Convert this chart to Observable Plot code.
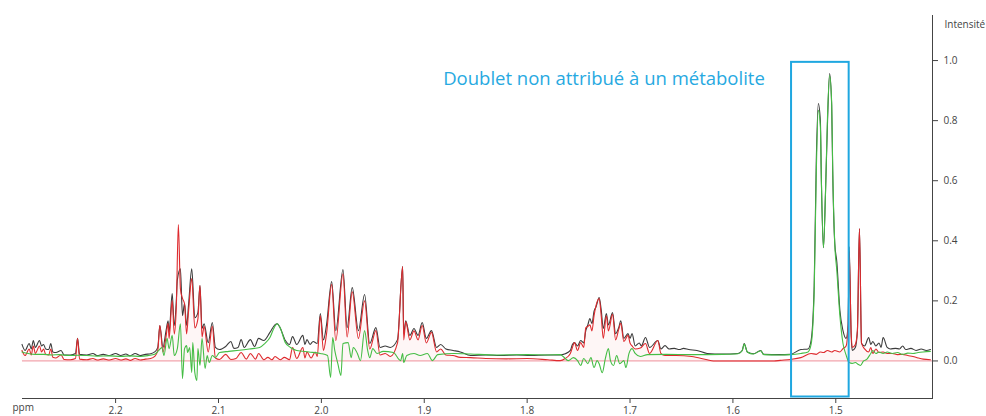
<!DOCTYPE html>
<html>
<head>
<meta charset="utf-8">
<script src="https://cdn.jsdelivr.net/npm/d3@7"></script>
<script src="https://cdn.jsdelivr.net/npm/@observablehq/plot@0.6"></script>
<style>
  body { margin: 0; background: #fff; }
  #chart svg {
    background:
      linear-gradient(#f6f6f6, #f6f6f6) 0 398px / 958px 18px no-repeat,
      linear-gradient(#f6f6f6, #f6f6f6) 931px 0 / 27px 416px no-repeat,
      #ffffff;
  }
</style>
</head>
<body>
<div id="chart"></div>
<script>
// Ticks
const xTicks = [2.2, 2.1, 2.0, 1.9, 1.8, 1.7, 1.6, 1.5];
const yTicks = [0, 0.2, 0.4, 0.6, 0.8, 1.0];
const xLabel = ["ppm"];
const yLabel = ["Intensité"];

// Annotation
const annotationText = ["Doublet non attribué à un métabolite"];
const annotationPpm = [1.8816];
const annotationIntensity = [0.937];
const boxPpm = [1.543, 1.487];
const boxIntensity = [-0.12, 0.994];

// Spectrum (black): [ppm, intensity]
const total = [
[2.291,0.055],[2.288,0.035],[2.284,0.058],[2.282,0.040],[2.280,0.068],[2.278,0.045],[2.274,0.068],[2.272,0.050],
[2.270,0.055],[2.268,0.040],[2.265,0.038],[2.263,0.058],[2.261,0.030],[2.258,0.028],[2.253,0.035],[2.250,0.020],
[2.244,0.020],[2.239,0.025],[2.237,0.075],[2.235,0.022],[2.228,0.020],[2.222,0.025],[2.218,0.018],[2.212,0.022],
[2.206,0.018],[2.200,0.025],[2.195,0.018],[2.190,0.023],[2.186,0.017],[2.181,0.025],[2.176,0.018],[2.171,0.022],
[2.166,0.024],[2.162,0.030],[2.159,0.045],[2.157,0.118],[2.154,0.045],[2.151,0.100],[2.149,0.134],[2.148,0.095],
[2.145,0.224],[2.143,0.118],[2.141,0.200],[2.140,0.270],[2.137,0.307],[2.135,0.151],[2.133,0.191],[2.131,0.118],
[2.129,0.191],[2.126,0.307],[2.123,0.144],[2.120,0.161],[2.118,0.251],[2.116,0.108],[2.114,0.124],[2.110,0.061],
[2.106,0.128],[2.103,0.045],[2.099,0.038],[2.093,0.048],[2.088,0.065],[2.085,0.042],[2.081,0.045],[2.078,0.071],
[2.075,0.045],[2.069,0.071],[2.065,0.048],[2.061,0.075],[2.056,0.068],[2.050,0.095],[2.045,0.121],[2.043,0.124],
[2.040,0.110],[2.035,0.068],[2.031,0.055],[2.028,0.081],[2.024,0.055],[2.018,0.085],[2.016,0.055],[2.014,0.071],
[2.011,0.055],[2.008,0.065],[2.004,0.058],[2.001,0.158],[1.998,0.070],[1.995,0.120],[1.990,0.264],[1.986,0.101],
[1.979,0.304],[1.975,0.111],[1.970,0.244],[1.964,0.101],[1.958,0.221],[1.953,0.058],[1.947,0.111],[1.943,0.045],
[1.938,0.050],[1.933,0.045],[1.926,0.071],[1.921,0.314],[1.920,0.090],[1.918,0.134],[1.914,0.085],[1.910,0.108],
[1.906,0.085],[1.902,0.128],[1.898,0.075],[1.893,0.101],[1.888,0.045],[1.884,0.055],[1.879,0.040],[1.872,0.035],
[1.865,0.030],[1.855,0.018],[1.840,0.020],[1.826,0.018],[1.810,0.020],[1.797,0.018],[1.780,0.020],[1.768,0.020],
[1.763,0.024],[1.758,0.035],[1.756,0.055],[1.754,0.061],[1.751,0.050],[1.748,0.068],[1.745,0.060],[1.743,0.101],
[1.741,0.120],[1.739,0.141],[1.737,0.124],[1.735,0.165],[1.733,0.180],[1.730,0.211],[1.728,0.170],[1.726,0.108],
[1.723,0.158],[1.721,0.120],[1.717,0.161],[1.714,0.091],[1.711,0.111],[1.709,0.134],[1.706,0.075],[1.702,0.091],
[1.700,0.075],[1.698,0.091],[1.695,0.050],[1.691,0.060],[1.689,0.050],[1.685,0.078],[1.681,0.045],[1.673,0.068],
[1.670,0.040],[1.666,0.051],[1.662,0.040],[1.657,0.042],[1.652,0.038],[1.648,0.042],[1.643,0.038],[1.635,0.035],
[1.625,0.025],[1.610,0.023],[1.595,0.025],[1.591,0.035],[1.589,0.058],[1.586,0.030],[1.580,0.024],[1.573,0.035],
[1.570,0.022],[1.555,0.021],[1.544,0.022],[1.534,0.038],[1.527,0.040],[1.524,0.068],[1.521,0.250],[1.519,0.660],
[1.517,0.857],[1.515,0.800],[1.514,0.600],[1.512,0.377],[1.510,0.560],[1.508,0.800],[1.506,0.957],[1.504,0.850],
[1.503,0.630],[1.501,0.391],[1.499,0.330],[1.496,0.168],[1.493,0.101],[1.490,0.075],[1.488,0.120],[1.487,0.380],
[1.485,0.080],[1.484,0.035],[1.481,0.045],[1.479,0.100],[1.477,0.441],[1.475,0.058],[1.472,0.050],[1.468,0.078],
[1.466,0.055],[1.464,0.065],[1.461,0.050],[1.458,0.060],[1.456,0.045],[1.454,0.078],[1.450,0.045],[1.447,0.040],
[1.442,0.042],[1.438,0.040],[1.435,0.050],[1.432,0.038],[1.427,0.042],[1.422,0.035],[1.417,0.040],[1.412,0.035],
[1.408,0.038]
];

// Fitted metabolites (red): [ppm, intensity]
const fit = [
[2.291,0.035],[2.288,0.018],[2.284,0.040],[2.282,0.020],[2.280,0.050],[2.278,0.025],[2.274,0.050],[2.272,0.030],
[2.270,0.040],[2.268,0.022],[2.265,0.020],[2.263,0.040],[2.261,0.012],[2.258,0.010],[2.253,0.020],[2.250,0.005],
[2.244,0.004],[2.239,0.008],[2.237,0.075],[2.235,0.006],[2.228,0.004],[2.222,0.008],[2.218,0.003],[2.212,0.007],
[2.206,0.003],[2.200,0.008],[2.195,0.003],[2.190,0.007],[2.186,0.002],[2.181,0.008],[2.176,0.003],[2.171,0.006],
[2.166,0.008],[2.162,0.015],[2.159,0.035],[2.157,0.118],[2.154,0.030],[2.151,0.080],[2.149,0.125],[2.148,0.075],
[2.145,0.201],[2.143,0.090],[2.141,0.180],[2.139,0.454],[2.137,0.240],[2.135,0.208],[2.133,0.191],[2.131,0.090],
[2.129,0.170],[2.126,0.274],[2.123,0.110],[2.120,0.140],[2.118,0.251],[2.116,0.080],[2.114,0.115],[2.110,0.030],
[2.106,0.115],[2.103,0.010],[2.099,0.005],[2.093,0.022],[2.088,0.005],[2.083,0.008],[2.078,0.028],[2.073,0.006],
[2.069,0.025],[2.064,0.006],[2.061,0.025],[2.056,0.004],[2.052,0.012],[2.048,0.004],[2.045,0.015],[2.040,0.004],
[2.036,0.012],[2.031,0.004],[2.028,0.045],[2.024,0.008],[2.018,0.045],[2.016,0.010],[2.014,0.030],[2.010,0.010],
[2.006,0.030],[2.004,0.015],[2.001,0.150],[1.998,0.035],[1.995,0.090],[1.990,0.255],[1.986,0.068],[1.979,0.290],
[1.975,0.080],[1.970,0.230],[1.964,0.075],[1.958,0.200],[1.953,0.040],[1.947,0.101],[1.943,0.020],[1.938,0.025],
[1.933,0.015],[1.926,0.060],[1.921,0.314],[1.920,0.070],[1.918,0.130],[1.914,0.070],[1.910,0.100],[1.906,0.070],
[1.902,0.118],[1.898,0.060],[1.893,0.095],[1.888,0.030],[1.884,0.040],[1.879,0.020],[1.872,0.018],[1.865,0.012],
[1.855,0.011],[1.840,0.008],[1.820,0.007],[1.800,0.008],[1.780,0.004],[1.768,0.001],[1.763,0.008],[1.758,0.025],
[1.756,0.045],[1.754,0.061],[1.751,0.035],[1.748,0.061],[1.745,0.045],[1.743,0.110],[1.741,0.115],[1.739,0.120],
[1.737,0.100],[1.735,0.150],[1.733,0.185],[1.730,0.208],[1.728,0.150],[1.726,0.075],[1.723,0.150],[1.721,0.100],
[1.717,0.155],[1.714,0.070],[1.711,0.105],[1.709,0.125],[1.706,0.065],[1.702,0.085],[1.700,0.060],[1.698,0.050],
[1.695,0.040],[1.690,0.043],[1.685,0.058],[1.681,0.025],[1.673,0.068],[1.670,0.025],[1.666,0.018],[1.655,0.018],
[1.640,0.015],[1.625,0.004],[1.619,0.000],[1.560,0.000],[1.554,0.002],[1.544,0.005],[1.534,0.011],[1.524,0.025],
[1.519,0.022],[1.515,0.030],[1.512,0.028],[1.508,0.035],[1.504,0.030],[1.501,0.035],[1.496,0.030],[1.493,0.041],
[1.490,0.050],[1.488,0.120],[1.487,0.360],[1.485,0.090],[1.484,0.045],[1.481,0.055],[1.479,0.100],[1.477,0.441],
[1.475,0.060],[1.472,0.040],[1.468,0.030],[1.466,0.045],[1.464,0.025],[1.461,0.040],[1.458,0.028],[1.454,0.030],
[1.450,0.025],[1.445,0.025],[1.440,0.021],[1.435,0.022],[1.430,0.018],[1.425,0.015],[1.420,0.010],[1.415,0.006],
[1.408,0.004]
];

// Residual (green): [ppm, intensity]
const residual = [
[2.291,0.030],[2.285,0.025],[2.278,0.022],[2.270,0.022],[2.262,0.020],[2.255,0.021],[2.245,0.018],[2.237,0.019],
[2.228,0.018],[2.218,0.016],[2.206,0.017],[2.195,0.015],[2.186,0.017],[2.176,0.015],[2.168,0.018],[2.162,0.022],
[2.158,0.035],[2.155,0.045],[2.153,0.018],[2.150,0.075],[2.148,0.041],[2.145,0.085],[2.143,0.018],[2.140,0.041],
[2.137,0.124],[2.135,-0.059],[2.133,0.041],[2.131,0.051],[2.130,0.028],[2.128,0.045],[2.126,-0.039],[2.125,0.061],
[2.123,-0.039],[2.121,-0.065],[2.120,0.041],[2.118,-0.015],[2.116,0.075],[2.113,-0.025],[2.111,0.018],[2.109,-0.005],
[2.106,0.018],[2.103,0.011],[2.099,0.028],[2.090,0.032],[2.082,0.035],[2.070,0.040],[2.060,0.045],[2.055,0.058],
[2.050,0.078],[2.046,0.110],[2.043,0.124],[2.040,0.110],[2.035,0.061],[2.030,0.045],[2.024,0.035],[2.012,0.030],
[2.001,0.025],[1.994,0.018],[1.991,-0.055],[1.989,0.078],[1.987,0.035],[1.984,-0.009],[1.981,-0.048],[1.979,0.058],
[1.974,0.061],[1.971,0.011],[1.969,0.045],[1.965,0.025],[1.962,0.001],[1.958,0.101],[1.955,0.035],[1.953,0.011],
[1.950,0.041],[1.946,0.025],[1.940,0.032],[1.930,0.028],[1.923,0.001],[1.921,0.025],[1.920,-0.005],[1.917,0.018],
[1.910,0.025],[1.904,0.018],[1.897,0.025],[1.892,0.001],[1.887,0.021],[1.871,0.025],[1.855,0.023],[1.830,0.020],
[1.800,0.021],[1.780,0.020],[1.768,0.021],[1.765,0.015],[1.760,0.001],[1.755,0.011],[1.751,0.001],[1.748,-0.015],
[1.745,0.008],[1.741,-0.009],[1.738,0.011],[1.735,-0.022],[1.732,0.001],[1.730,-0.009],[1.727,-0.039],[1.724,0.008],
[1.721,0.041],[1.719,0.001],[1.716,-0.015],[1.713,0.018],[1.710,-0.009],[1.706,0.001],[1.704,-0.022],[1.701,0.025],
[1.698,0.041],[1.695,0.025],[1.690,0.015],[1.683,0.021],[1.665,0.022],[1.640,0.021],[1.610,0.022],[1.595,0.024],
[1.591,0.034],[1.589,0.056],[1.586,0.030],[1.580,0.023],[1.573,0.034],[1.570,0.021],[1.555,0.020],[1.544,0.021],
[1.534,0.025],[1.527,0.030],[1.524,0.055],[1.521,0.230],[1.519,0.620],[1.517,0.834],[1.515,0.780],[1.514,0.600],
[1.512,0.377],[1.510,0.560],[1.508,0.820],[1.506,0.950],[1.504,0.860],[1.503,0.640],[1.501,0.391],[1.499,0.300],
[1.496,0.150],[1.493,0.058],[1.490,0.020],[1.487,-0.005],[1.484,-0.008],[1.481,-0.005],[1.478,-0.012],[1.476,-0.015],
[1.473,0.000],[1.470,0.005],[1.466,0.025],[1.464,0.035],[1.461,0.025],[1.458,0.030],[1.454,0.025],[1.450,0.030],
[1.445,0.025],[1.440,0.028],[1.435,0.022],[1.430,0.026],[1.425,0.025],[1.420,0.028],[1.415,0.030],[1.408,0.032]
];

const px = d => d[0], py = d => d[1];
const curve = "monotone-x";

const chart = Plot.plot({
  width: 986,
  height: 416,
  marginLeft: 22,
  marginRight: 54,
  marginTop: 15,
  marginBottom: 18,
  style: { fontFamily: "'Open Sans', 'Noto Sans', sans-serif", fontSize: "10px", color: "#444", background: "transparent", overflow: "visible" },
  x: { domain: [2.2905, 1.406], ticks: xTicks, tickFormat: d3.format(".1f"), tickSize: 5, tickPadding: 3, line: true, label: null },
  y: { domain: [-0.125, 1.15], axis: "right", ticks: yTicks, tickFormat: d3.format(".1f"), tickSize: 5, tickPadding: 6, line: true, label: null },
  marks: [
    Plot.areaY(fit, { x: px, y: py, fill: "#f08a8a", fillOpacity: 0.08, curve }),
    Plot.ruleY([0], { stroke: "#f2a4ad", strokeWidth: 1.3 }),
    Plot.line(total, { x: px, y: py, stroke: "#3b3b3b", strokeWidth: 1.1, curve }),
    Plot.line(fit, { x: px, y: py, stroke: "#de2a2e", strokeWidth: 1.1, curve }),
    Plot.line(residual, { x: px, y: py, stroke: "#45bd45", strokeWidth: 1.1, curve }),
    Plot.rect([0], { x1: () => boxPpm[0], x2: () => boxPpm[1], y1: () => boxIntensity[0], y2: () => boxIntensity[1], fill: "none", stroke: "#1fa7e0", strokeWidth: 2 }),
    Plot.text(annotationText, { x: () => annotationPpm[0], y: () => annotationIntensity[0], text: d => d, textAnchor: "start", fill: "#27a9e1", fontSize: 18.5 }),
    Plot.text(xLabel, { frameAnchor: "bottom-left", text: d => d, textAnchor: "start", dx: -10, dy: 12, fill: "#444", fontSize: 10 }),
    Plot.text(yLabel, { frameAnchor: "top-right", text: d => d, textAnchor: "start", dx: 12, dy: 5, fill: "#444", fontSize: 10 })
  ]
});
document.getElementById("chart").appendChild(chart);
</script>
</body>
</html>
